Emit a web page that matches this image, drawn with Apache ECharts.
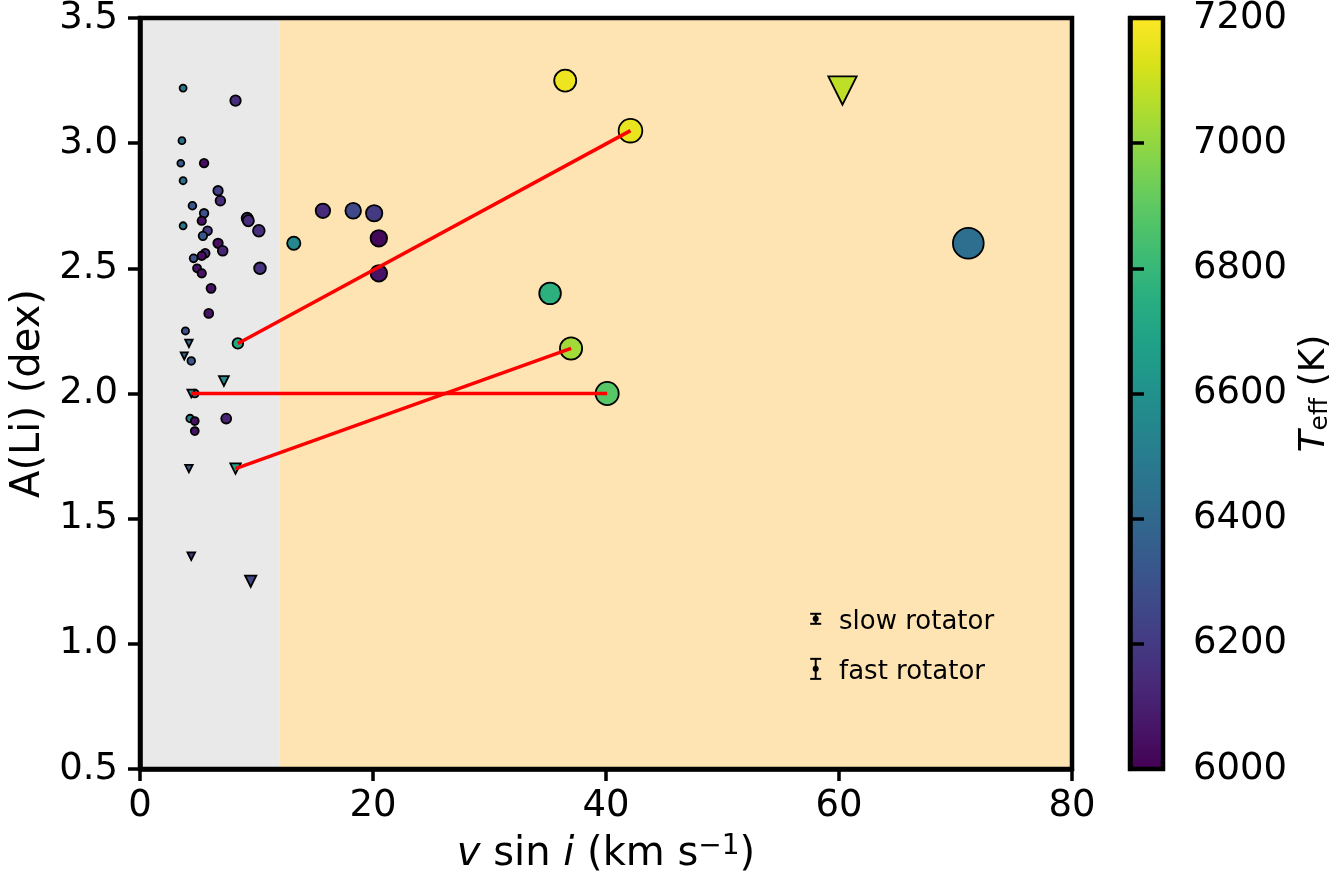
<!DOCTYPE html>
<html>
<head>
<meta charset="utf-8">
<script src="https://cdn.jsdelivr.net/npm/echarts@6/dist/echarts.min.js"></script>
<style>
  html, body { margin: 0; padding: 0; background: #fff; }
  #chart { width: 1339px; height: 877px; }
</style>
</head>
<body>
<div id="chart"></div>
<script>
// detections (circles): v sin i, A(Li), Teff
const detVsini = [3.7, 8.2, 3.6, 3.5, 5.5, 3.7, 6.7, 6.9, 4.5, 5.5, 3.7, 5.3, 5.8, 5.4, 9.2, 9.3, 10.2, 6.7, 7.1, 5.6,
                  5.3, 4.6, 4.9, 5.3, 10.3, 6.1, 13.2, 15.7, 18.3, 20.1, 20.5, 20.5, 5.9, 3.9, 8.4, 4.4, 4.7, 4.3, 4.7, 4.7,
                  7.4, 36.5, 42.1, 35.2, 37.0, 40.1, 71.1];
const detALi = [3.22, 3.17, 3.01, 2.92, 2.92, 2.85, 2.81, 2.77, 2.75, 2.72, 2.67, 2.69, 2.65, 2.63, 2.70, 2.69, 2.65, 2.60, 2.57, 2.56,
                2.55, 2.54, 2.50, 2.48, 2.50, 2.42, 2.60, 2.73, 2.73, 2.72, 2.62, 2.48, 2.32, 2.25, 2.20, 2.13, 2.00, 1.90, 1.89, 1.85,
                1.90, 3.25, 3.05, 2.40, 2.18, 2.00, 2.60];
const detTeff = [6480, 6150, 6450, 6350, 6040, 6450, 6230, 6150, 6320, 6300, 6470, 6050, 6200, 6330, 6140, 6150, 6160, 6050, 6120, 6160,
                 6050, 6300, 6060, 6060, 6170, 6050, 6560, 6140, 6260, 6200, 6020, 6060, 6060, 6310, 6720, 6320, 6480, 6520, 6050, 6060,
                 6120, 7170, 7160, 6760, 7030, 6880, 6430];

// upper limits (down triangles)
const limVsini = [4.2, 3.8, 7.2, 4.4, 4.2, 8.2, 4.4, 9.5, 60.3];
const limALi = [2.20, 2.15, 2.05, 2.00, 1.70, 1.70, 1.35, 1.25, 3.21];
const limTeff = [6420, 6400, 6580, 6560, 6350, 6680, 6180, 6250, 7080];

// connecting lines (same star, two measurements)
const linkFrom = [[8.4, 2.20], [4.4, 2.00], [8.2, 1.70]];
const linkTo = [[42.1, 3.05], [40.1, 2.00], [37.0, 2.18]];

// error bar key
const keyNames = ['slow rotator', 'fast rotator'];
const keyX = [58, 58];
const keyY = [1.10, 0.90];
const keyErr = [0.02, 0.04];
const keyTextX = [60, 60];

// shaded vsini regions
const shadeFrom = [0, 12];
const shadeTo = [12, 80];

const xTicks = [0, 20, 40, 60, 80];
const yTicks = [0.5, 1.0, 1.5, 2.0, 2.5, 3.0, 3.5];
const cbTicks = [6000, 6200, 6400, 6600, 6800, 7000, 7200];

const viridis = ['#440154', '#48186a', '#472d7b', '#424086', '#3b528b', '#33638d', '#2c728e', '#26828e', '#21918c',
                 '#1fa088', '#28ae80', '#3fbc73', '#5ec962', '#84d44b', '#addc30', '#d8e219', '#fde725'];

const FONT = 'DejaVu Sans';
const markSize = d => 3.65 * Math.sqrt(d[0]);

const detData = detVsini.map((v, i) => [v, detALi[i], detTeff[i]]);
const limData = limVsini.map((v, i) => [v, limALi[i], limTeff[i]]);
const keyData = keyX.map((x, i) => [x, keyY[i], keyErr[i], keyTextX[i]]);

const shadeColors = ['#e9e9e9', '#ffe4b3'];

const chart = echarts.init(document.getElementById('chart'));

const series = [
  {
    type: 'scatter',
    data: [],
    z: 0,
    silent: true,
    markArea: {
      silent: true,
      data: shadeFrom.map((a, i) => [
        { xAxis: a, itemStyle: { color: shadeColors[i] } },
        { xAxis: shadeTo[i] }
      ])
    }
  },
  {
    name: 'det',
    type: 'scatter',
    data: detData,
    symbol: 'circle',
    symbolSize: markSize,
    itemStyle: { borderColor: '#000', borderWidth: 1.8, opacity: 1 },
    z: 3
  },
  {
    name: 'lim',
    type: 'scatter',
    data: limData,
    symbol: 'triangle',
    symbolRotate: 180,
    symbolSize: markSize,
    itemStyle: { borderColor: '#000', borderWidth: 1.8, opacity: 1 },
    z: 4
  }
];

linkFrom.forEach((p, i) => {
  series.push({
    type: 'line',
    data: [p, linkTo[i]],
    symbol: 'none',
    lineStyle: { color: '#ff0000', width: 3.5 },
    z: 5,
    silent: true
  });
});

series.push({
  type: 'custom',
  data: keyData,
  z: 6,
  silent: true,
  renderItem(params, api) {
    const x = api.value(0), y = api.value(1), e = api.value(2);
    const top = api.coord([x, y + e]);
    const bot = api.coord([x, y - e]);
    const mid = api.coord([x, y]);
    const tp = api.coord([api.value(3), y]);
    const cap = 5.5;
    return {
      type: 'group',
      children: [
        { type: 'line', shape: { x1: top[0], y1: top[1], x2: bot[0], y2: bot[1] }, style: { stroke: '#000', lineWidth: 2 } },
        { type: 'line', shape: { x1: top[0] - cap, y1: top[1], x2: top[0] + cap, y2: top[1] }, style: { stroke: '#000', lineWidth: 2 } },
        { type: 'line', shape: { x1: bot[0] - cap, y1: bot[1], x2: bot[0] + cap, y2: bot[1] }, style: { stroke: '#000', lineWidth: 2 } },
        { type: 'circle', shape: { cx: mid[0], cy: mid[1], r: 3 }, style: { fill: '#000' } },
        { type: 'text', x: tp[0], y: tp[1] + 3, style: { text: keyNames[params.dataIndex], fontSize: 26, fontFamily: FONT, fill: '#000', align: 'left', verticalAlign: 'middle' } }
      ]
    };
  }
});

// colour bar
series.push({
  type: 'custom',
  xAxisIndex: 1,
  yAxisIndex: 1,
  data: [[0, cbTicks[0], 1, cbTicks[cbTicks.length - 1]]],
  silent: true,
  z: 1,
  renderItem(params, api) {
    const p0 = api.coord([api.value(0), api.value(1)]);
    const p1 = api.coord([api.value(2), api.value(3)]);
    return {
      type: 'rect',
      shape: { x: p0[0], y: p1[1], width: p1[0] - p0[0], height: p0[1] - p1[1] },
      style: {
        fill: {
          type: 'linear', x: 0, y: 1, x2: 0, y2: 0,
          colorStops: viridis.map((c, i) => ({ offset: i / (viridis.length - 1), color: c }))
        }
      }
    };
  }
});

const tickLabel = { fontFamily: FONT, fontSize: 37, color: '#000' };

const option = {
  animation: false,
  backgroundColor: '#fff',
  grid: [
    { left: 140, right: 267, top: 18, bottom: 108, outerBoundsMode: 'none', show: true, borderColor: '#000', borderWidth: 4.5, backgroundColor: 'transparent', z: 10 },
    { left: 1130, right: 176, top: 18, bottom: 108, outerBoundsMode: 'none', show: true, borderColor: '#000', borderWidth: 4.5, backgroundColor: 'transparent', z: 10 }
  ],
  visualMap: {
    type: 'continuous',
    show: false,
    dimension: 2,
    min: cbTicks[0],
    max: cbTicks[cbTicks.length - 1],
    seriesIndex: [1, 2],
    inRange: { color: viridis }
  },
  xAxis: [
    {
      type: 'value', gridIndex: 0, min: xTicks[0], max: xTicks[xTicks.length - 1], interval: 20, z: 10,
      axisLine: { show: true, lineStyle: { color: '#000', width: 4.5 } },
      axisTick: { show: true, inside: false, length: 12, lineStyle: { color: '#000', width: 3.5 } },
      axisLabel: Object.assign({ margin: 19 }, tickLabel),
      splitLine: { show: false },
      name: '{it|v} sin {it|i} (km s{sup|−1})',
      nameLocation: 'middle',
      nameGap: 64,
      nameTextStyle: {
        fontFamily: FONT, fontSize: 40, color: '#000',
        rich: {
          it: { fontFamily: FONT, fontSize: 40, fontStyle: 'italic', color: '#000' },
          sup: { fontFamily: FONT, fontSize: 28, color: '#000', verticalAlign: 'top', padding: [0, 0, 15, 0] }
        }
      }
    },
    { type: 'value', gridIndex: 1, min: 0, max: 1, show: false }
  ],
  yAxis: [
    {
      type: 'value', gridIndex: 0, min: yTicks[0], max: yTicks[yTicks.length - 1], interval: 0.5, z: 10,
      axisLine: { show: true, lineStyle: { color: '#000', width: 4.5 } },
      axisTick: { show: true, inside: false, length: 12, lineStyle: { color: '#000', width: 3.5 } },
      axisLabel: Object.assign({ margin: 22, formatter: v => v.toFixed(1) }, tickLabel),
      splitLine: { show: false },
      name: 'A(Li) (dex)',
      nameLocation: 'middle',
      nameRotate: 90,
      nameGap: 91,
      nameTextStyle: { fontFamily: FONT, fontSize: 40, color: '#000' }
    },
    {
      type: 'value', gridIndex: 1, position: 'right', min: cbTicks[0], max: cbTicks[cbTicks.length - 1], interval: 200, z: 10,
      axisLine: { show: true, lineStyle: { color: '#000', width: 4.5 } },
      axisTick: { show: true, inside: false, length: 14, lineStyle: { color: '#000', width: 3.5 } },
      axisLabel: Object.assign({ margin: 30, formatter: v => String(v) }, tickLabel),
      splitLine: { show: false },
      name: '{it|T}{sub|eff} (K)',
      nameLocation: 'middle',
      nameRotate: 90,
      nameGap: 134,
      nameTextStyle: {
        fontFamily: FONT, fontSize: 36, color: '#000',
        rich: {
          it: { fontFamily: FONT, fontSize: 36, fontStyle: 'italic', color: '#000' },
          sub: { fontFamily: FONT, fontSize: 25, color: '#000', verticalAlign: 'bottom', padding: [10, 0, 0, 0] }
        }
      }
    }
  ],
  series: series
};

chart.setOption(option);
</script>
</body>
</html>
